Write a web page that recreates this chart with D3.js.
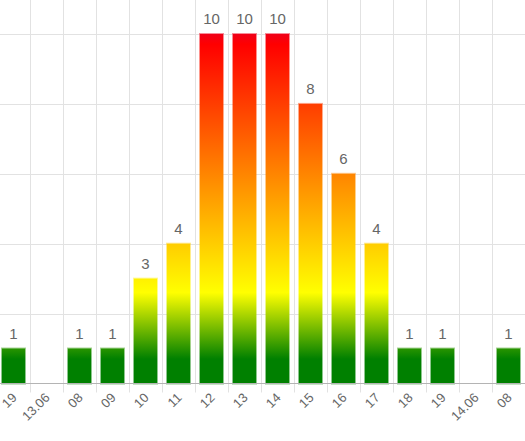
<!DOCTYPE html>
<html>
<head>
<meta charset="utf-8">
<script src="https://cdn.jsdelivr.net/npm/d3@7"></script>
<style>
  html, body { margin: 0; padding: 0; background: #fff; }
  svg { display: block; font-family: "Liberation Sans", Arial, sans-serif; }
</style>
</head>
<body>
<svg id="chart" width="525" height="441"></svg>
<script>
// hourly counts
const labels = ["19", "13.06", "08", "09", "10", "11", "12", "13", "14", "15", "16", "17", "18", "19", "14.06", "08"];
const counts = [1, 0, 1, 1, 3, 4, 10, 10, 10, 8, 6, 4, 1, 1, 0, 1];
const yTicks = [0, 2, 4, 6, 8, 10];

const width = 525;
const baseY = 383.5;

const svg = d3.select("#chart");

// x: bands, the chart is cut a little on the left
const x = d3.scaleBand()
  .domain(d3.range(labels.length))
  .range([-3, width]);

const y = d3.scaleLinear()
  .domain([0, 10])
  .range([baseY, 34]);

// gradient green -> yellow -> red along the value axis
const defs = svg.append("defs");
const grad = defs.append("linearGradient")
  .attr("id", "barGrad")
  .attr("gradientUnits", "userSpaceOnUse")
  .attr("x1", 0).attr("x2", 0)
  .attr("y1", y(0)).attr("y2", y(10));
grad.append("stop").attr("offset", 0.07).attr("stop-color", "#008000");
grad.append("stop").attr("offset", 0.26).attr("stop-color", "#ffff00");
grad.append("stop").attr("offset", 0.97).attr("stop-color", "#ff0000");
grad.append("stop").attr("offset", 1).attr("stop-color", "#f00018");

// horizontal grid
svg.append("g")
  .selectAll("line")
  .data(yTicks.filter(d => d > 0))
  .join("line")
  .attr("x1", 0).attr("x2", width)
  .attr("y1", d => Math.round(y(d)) + 0.5)
  .attr("y2", d => Math.round(y(d)) + 0.5)
  .attr("stroke", "#e2e2e2");

// vertical grid, between the bands, running down as ticks
svg.append("g")
  .selectAll("line")
  .data(d3.range(1, labels.length))
  .join("line")
  .attr("x1", i => Math.round(x(i)) + 0.5)
  .attr("x2", i => Math.round(x(i)) + 0.5)
  .attr("y1", 0).attr("y2", baseY + 9)
  .attr("stroke", "#e2e2e2");

// bars
const barW = 23;
const barData = counts.map((v, i) => ({ v: v, i: i })).filter(d => d.v > 0);
svg.append("g")
  .selectAll("rect")
  .data(barData)
  .join("rect")
  .attr("x", d => x(d.i) + x.bandwidth() / 2 - barW / 2)
  .attr("y", d => y(d.v))
  .attr("width", barW)
  .attr("height", d => baseY - y(d.v))
  .attr("fill", "url(#barGrad)")
  .attr("stroke", "url(#barGrad)")
  .attr("stroke-opacity", 0.45)
  .attr("stroke-width", 2);

// axis line
svg.append("line")
  .attr("x1", 0).attr("x2", width)
  .attr("y1", baseY).attr("y2", baseY)
  .attr("stroke", "#b4b4b4");

// value labels
svg.append("g")
  .selectAll("text")
  .data(barData)
  .join("text")
  .attr("x", d => x(d.i) + x.bandwidth() / 2)
  .attr("y", d => y(d.v) - 10)
  .attr("text-anchor", "middle")
  .attr("fill", "#666")
  .style("font-size", "15px")
  .text(d => d.v);

// x tick labels, rotated 45 degrees, ending at the band centre
const tickG = svg.append("g");
labels.forEach(function(lab, i) {
  const cx = x(i) + x.bandwidth() / 2 + 4;
  tickG.append("text")
    .attr("transform", "translate(" + cx + "," + 398.5 + ") rotate(-45)")
    .attr("text-anchor", "end")
    .attr("fill", "#666")
    .style("font-size", "13px")
    .text(lab);
});
</script>
</body>
</html>
